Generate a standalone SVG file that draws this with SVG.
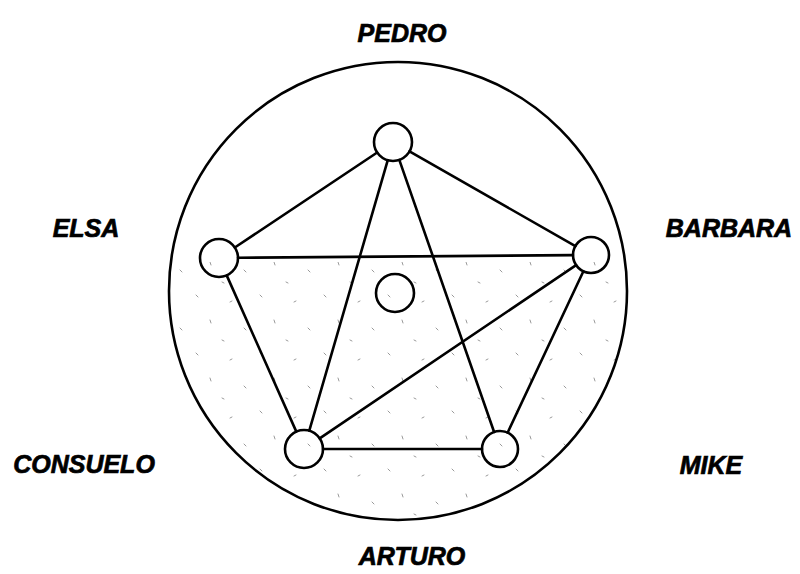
<svg xmlns="http://www.w3.org/2000/svg" width="800" height="574" viewBox="0 0 800 574">
<style>
.edge{stroke:#000;stroke-width:2.6;stroke-linecap:round;fill:none}
.node{fill:none;stroke:#000;stroke-width:2.6}
.lbl{font-family:"Liberation Sans",Arial,sans-serif;font-weight:bold;font-style:italic;font-size:25px;fill:#000;stroke:#000;stroke-width:0.7;text-anchor:middle}
</style>
<defs>
<pattern id="stip" width="64" height="58" patternUnits="userSpaceOnUse">
<g stroke="#9a9a9a" stroke-width="1" stroke-linecap="round">
<line x1="4" y1="5" x2="6" y2="7"/>
<line x1="38" y1="12" x2="40" y2="11"/>
<line x1="18" y1="30" x2="19" y2="33"/>
<line x1="52" y1="38" x2="54" y2="40"/>
<line x1="30" y1="50" x2="32" y2="51"/>
</g>
</pattern>
<clipPath id="lower">
<circle cx="398" cy="291" r="228"/>
</clipPath>
</defs>
<rect width="800" height="574" fill="#fff"/>
<rect x="160" y="262" width="480" height="270" fill="url(#stip)" clip-path="url(#lower)"/>
<circle cx="398" cy="291" r="229" fill="none" stroke="#000" stroke-width="2.6"/>
<g id="connectors">
<line class="edge" x1="377.2" y1="152.5" x2="234.8" y2="247.5"/>
<line class="edge" x1="409.5" y1="151.4" x2="575.4" y2="246.1"/>
<line class="edge" x1="387.7" y1="160.3" x2="309.3" y2="430.7"/>
<line class="edge" x1="399.3" y1="159.9" x2="494.1" y2="432.0"/>
<line class="edge" x1="238" y1="257.8" x2="573" y2="255.1"/>
<line class="edge" x1="226.7" y1="275.4" x2="296.3" y2="431.6"/>
<line class="edge" x1="576.1" y1="265.1" x2="319.7" y2="438.4"/>
<line class="edge" x1="583.4" y1="271.3" x2="507.6" y2="432.7"/>
<line class="edge" x1="323" y1="449" x2="482" y2="449"/>
</g>
<g id="node-pedro"><circle class="node" cx="393" cy="142" r="19"/></g>
<g id="node-elsa"><circle class="node" cx="219" cy="258" r="19"/></g>
<g id="node-barbara"><circle class="node" cx="591" cy="255" r="18"/></g>
<g id="node-center"><circle class="node" cx="395" cy="293" r="19"/></g>
<g id="node-consuelo"><circle class="node" cx="304" cy="449" r="19"/></g>
<g id="node-mike"><circle class="node" cx="500" cy="449" r="18"/></g>
<g id="labels">
<text class="lbl" x="402" y="42">PEDRO</text>
<text class="lbl" x="86" y="237">ELSA</text>
<text class="lbl" x="729" y="237">BARBARA</text>
<text class="lbl" x="84" y="473">CONSUELO</text>
<text class="lbl" x="711" y="474">MIKE</text>
<text class="lbl" x="412" y="565">ARTURO</text>
</g>
</svg>
